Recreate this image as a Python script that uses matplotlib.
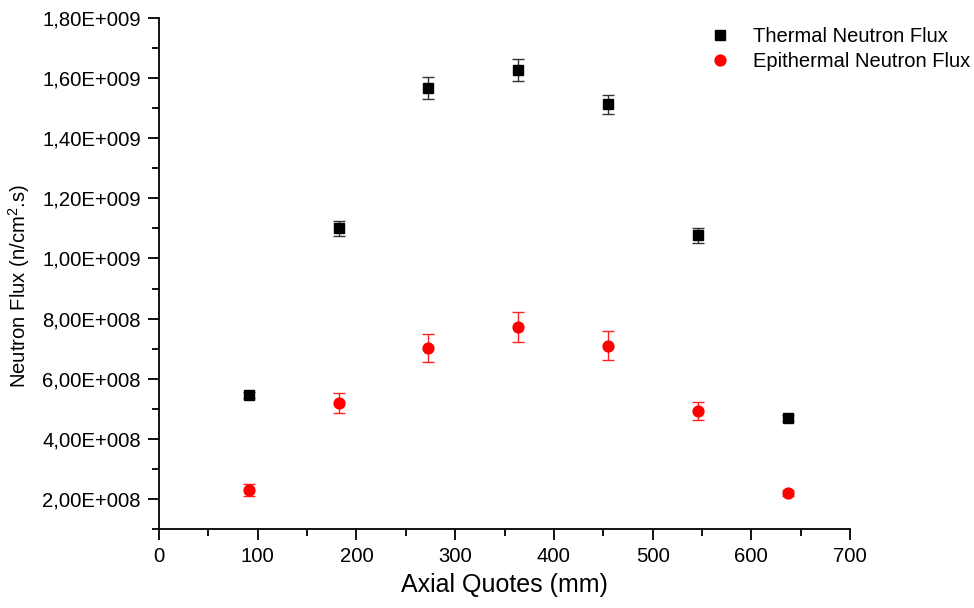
import math
import matplotlib
matplotlib.use("Agg")
import matplotlib.pyplot as plt
from matplotlib.ticker import FuncFormatter, MultipleLocator
from matplotlib.lines import Line2D

plt.rcParams['font.family'] = ['Liberation Sans', 'DejaVu Sans']
plt.rcParams['mathtext.fontset'] = 'custom'
plt.rcParams['mathtext.rm'] = 'Liberation Sans'
plt.rcParams['mathtext.it'] = 'Liberation Sans'
plt.rcParams['mathtext.default'] = 'regular'

# Data
axial_mm = [91, 182, 273, 364, 455, 546, 637]
thermal_flux = [5.47e8, 1.10e9, 1.567e9, 1.627e9, 1.513e9, 1.077e9, 4.68e8]
thermal_err = [1.0e7, 2.5e7, 3.8e7, 3.6e7, 3.1e7, 2.5e7, 1.0e7]
epithermal_flux = [2.30e8, 5.18e8, 7.02e8, 7.72e8, 7.10e8, 4.93e8, 2.20e8]
epithermal_err = [2.0e7, 3.3e7, 4.7e7, 5.1e7, 4.9e7, 3.0e7, 1.0e7]
series_labels = ["Thermal Neutron Flux", "Epithermal Neutron Flux"]

fig = plt.figure(figsize=(9.74, 6.08), dpi=100)
ax = fig.add_axes([159/974, 1 - 529/608, (850-159)/974, (529-18)/608])

ax.errorbar(axial_mm, thermal_flux, yerr=thermal_err, fmt='s', color='black',
            ms=7.5, ecolor='#333333', elinewidth=1.0, capsize=4, capthick=1.0,
            zorder=3)
ax.errorbar(axial_mm, epithermal_flux, yerr=epithermal_err, fmt='o', color='#ff0000',
            ms=7.8, ecolor='#ff2020', elinewidth=1.0, capsize=4, capthick=1.0,
            zorder=3)

ax.set_xlim(0, 700)
ax.set_ylim(1e8, 1.8e9)
ax.xaxis.set_major_locator(MultipleLocator(100))
ax.xaxis.set_minor_locator(MultipleLocator(50))
ax.set_yticks([2e8 * i for i in range(1, 10)])
ax.set_yticks([1e8 + 2e8 * i for i in range(0, 9)], minor=True)

def fmt(v, pos):
    if v == 0:
        return "0"
    e = int(math.floor(math.log10(abs(v)) + 1e-9))
    m = v / 10**e
    return ("%.2f" % m).replace('.', ',') + "E+%03d" % e

ax.yaxis.set_major_formatter(FuncFormatter(fmt))

for s in ['top', 'right']:
    ax.spines[s].set_visible(False)
for s in ['left', 'bottom']:
    ax.spines[s].set_linewidth(1.3)

ax.tick_params(which='major', direction='out', length=8, width=1.3, labelsize=14.6, pad=5)
ax.tick_params(which='minor', direction='out', length=5, width=1.3)

ax.set_xlabel("Axial Quotes (mm)", fontsize=18, labelpad=5)
ax.set_ylabel(r"Neutron Flux (n/cm$^{2}$.s)", fontsize=14.6)
ax.yaxis.set_label_coords(-0.184, 0.475)

handles = [Line2D([], [], marker='s', color='black', ls='none', ms=7.5),
           Line2D([], [], marker='o', color='#ff0000', ls='none', ms=7.8)]
fig.legend(handles, series_labels,
           loc='upper right', bbox_to_anchor=(970/974, 1 - 27/608),
           frameon=False, fontsize=14.5, borderpad=0, borderaxespad=0,
           labelspacing=0.3, handletextpad=0.75, handlelength=1.8)

fig.savefig("out.png", dpi=100)
